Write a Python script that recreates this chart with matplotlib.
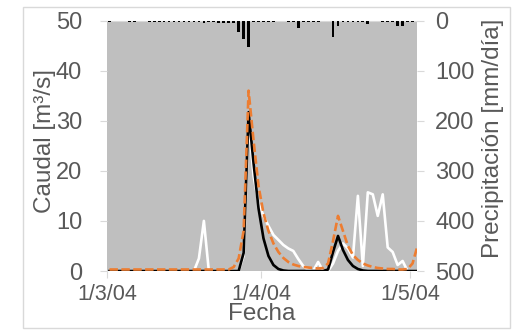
import numpy as np
import pandas as pd
import matplotlib
matplotlib.use("Agg")
import matplotlib.pyplot as plt
from matplotlib.patches import Rectangle

plt.rcParams['font.family'] = ['Liberation Sans', 'DejaVu Sans']

# daily series, 1/3/2004 .. 2/5/2004
start_date = "2004-03-01"
n_days = 63

caudal_obs = [0] * 27 + [3.6, 31.7, 21.5, 12.5, 6.5, 3.0, 1.2, 0.4, 0.1] \
    + [0] * 8 + [0.3, 3.8, 7.0, 4.2, 2.2, 1.0, 0.4, 0.1] + [0] * 11

caudal_sim = [0.3] * 25 + [0.8, 2.5, 8.0, 36.0, 26.0, 17.0, 11.5, 8.0, 5.5, 3.8,
                           2.6, 1.8, 1.3, 1.0, 0.8, 0.7, 0.6, 0.5, 0.6, 1.5,
                           6.0, 11.0, 8.0, 5.0, 3.2, 2.2, 1.5, 1.1, 0.8, 0.6,
                           0.5, 0.4, 0.4, 0.3, 0.3, 0.4, 1.5, 5.0]

caudal_sim2 = [0] * 18 + [2.5, 10.0, 0] + [0] * 6 \
    + [3.0, 30.0, 19.0, 13.5, 11.0, 9.0, 7.2, 6.2, 5.2, 4.5, 4.0, 2.4, 1.0,
       0.2, 0, 1.8, 0, 0, 1.5, 4.0, 5.5, 4.5, 2.7, 15.0, 1.0, 15.7, 15.3,
       11.0, 15.3, 4.7, 3.8, 1.2, 2.0, 0, 0, 0]

precip = [3, 0, 0, 0, 3, 3, 0, 0,
          3, 2, 3, 3, 2, 3, 3, 3, 2, 3, 3, 4, 3, 3, 4,
          5, 4, 5, 23, 36, 52, 3, 3, 3, 3, 3, 0, 0, 3, 3, 14,
          3, 3, 3, 3, 0, 0, 33, 11, 3, 3, 3, 3, 3, 6, 0, 0,
          3, 3, 3, 11, 11, 3, 3, 0]

xtick_dates = ["2004-03-01", "2004-04-01", "2004-05-01"]
xtick_labels = ["1/3/04", "1/4/04", "1/5/04"]
caudal_ticks = [0, 10, 20, 30, 40, 50]
precip_ticks = [0, 100, 200, 300, 400, 500]

days = pd.date_range(start_date, periods=n_days) + pd.Timedelta(hours=12)
t0 = pd.Timestamp(start_date)

grey_txt = "#595959"
tick_col = "#D9D9D9"

fig = plt.figure(figsize=(5.15, 3.3), dpi=100)
ax = fig.add_axes([107 / 515, 59 / 330, 310 / 515, 250.5 / 330])
ax.set_facecolor("#BFBFBF")

ax.plot(days, caudal_sim2, color="white", lw=1.9, zorder=2)
ax.plot(days, caudal_obs, color="black", lw=1.9, zorder=3)
ax.plot(days, caudal_sim, color="#ED7D31", lw=1.9, ls=(0, (3.2, 1.3)),
        zorder=4)

ax.set_ylim(0, 50)
ax.set_xlim(t0, t0 + pd.Timedelta(days=62.4))
ax.set_yticks(caudal_ticks)
ax.set_xticks(pd.to_datetime(xtick_dates))
ax.set_xticklabels(xtick_labels)

ax2 = ax.twinx()
ax2.bar(days, precip, width=0.55, color="black", zorder=3)
ax2.set_ylim(500, 0)
ax2.set_yticks(precip_ticks)

for a in (ax, ax2):
    for s in a.spines.values():
        s.set_visible(False)
ax.spines["top"].set_visible(True)
ax.spines["top"].set_color(tick_col)

ax.tick_params(axis="y", length=5, color=tick_col, labelcolor=grey_txt,
               labelsize=17, pad=13)
ax.tick_params(axis="x", length=5, color=tick_col, labelcolor=grey_txt,
               labelsize=15.5, pad=4)
ax2.tick_params(axis="y", length=5, color=tick_col, labelcolor=grey_txt,
                labelsize=17, pad=8)

ax.set_ylabel("Caudal [m³/s]", fontsize=17.5, color=grey_txt, va="center")
ax.yaxis.set_label_coords(-0.2, 0.52)
ax2.set_ylabel("Precipitación [mm/día]", fontsize=17.5, color=grey_txt,
               va="center")
ax2.yaxis.set_label_coords(1.245, 0.53)
ax.set_xlabel("Fecha", fontsize=17.5, color=grey_txt, va="center")
ax.xaxis.set_label_coords(0.5, -0.172)

fig.patches.append(Rectangle((23 / 515, 2 / 330), 487 / 515, 321 / 330,
                             transform=fig.transFigure, fill=False,
                             edgecolor=tick_col, lw=1))

fig.savefig("out.png", dpi=100, facecolor="white")
